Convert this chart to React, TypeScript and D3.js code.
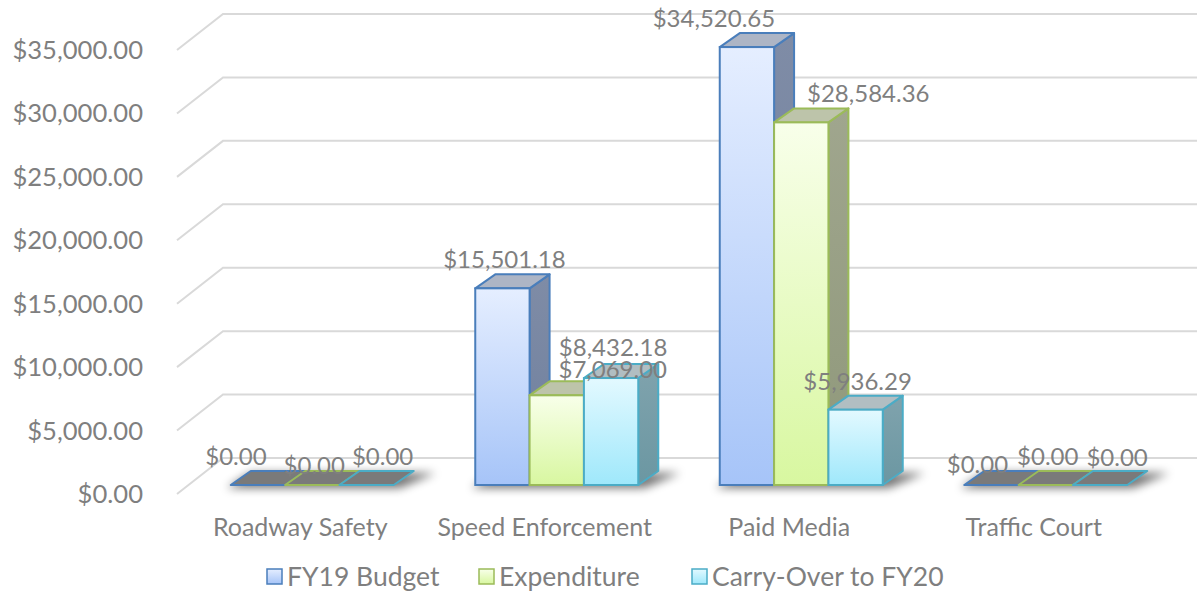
import React from "react";
import * as d3 from "d3";

const categories = ["Roadway Safety", "Speed Enforcement", "Paid Media", "Traffic Court"];
const seriesNames = ["FY19 Budget", "Expenditure", "Carry-Over to FY20"];
const fy19Budget = [0, 15501.18, 34520.65, 0];
const expenditure = [0, 7069.0, 28584.36, 0];
const carryOver = [0, 8432.18, 5936.29, 0];
const yTicks = [0, 5000, 10000, 15000, 20000, 25000, 30000, 35000];

// label nudges (dx, dy) relative to default position above each bar
const labelNudge: [number, number][][] = [
  [[-24, 0], [0, 9], [14, 0]],
  [[0, 0], [54, 3], [0, -2]],
  [[-35, 0], [65, 0], [0, 0]],
  [[-16, 8], [0, 0], [15, 1]],
];

const W = 1197;
const H = 594;
const FONT = "Lato, 'Open Sans', sans-serif";
const TEXT = "#7f7f7f";
const WALL = { dx: 46, dy: -36 };
const OFF = { dx: 13, dy: -9 };
const DEPTH = { dx: 20, dy: -14 };

const styles = [
  { stroke: "#4a7ebb", top0: "#e5eeff", bot0: "#a6c4f8", side: "#7f8ca6", side2: "#6e7f9e", topFace: "#adb5c5" },
  { stroke: "#9bbb59", top0: "#f8ffea", bot0: "#d8f7a0", side: "#a0a68e", side2: "#8f987a", topFace: "#bdc4aa" },
  { stroke: "#4bacc6", top0: "#e3f9ff", bot0: "#9fe8fb", side: "#80a3ad", side2: "#6b97a2", topFace: "#b1bec2" },
];

const legendX = [267, 479, 692];

export default function App() {
  const values = [fy19Budget, expenditure, carryOver];
  const x0 = d3.scaleBand<string>().domain(categories).range([177, 1155]).padding(0);
  const groupW = x0.bandwidth() * (2 / 3);
  const x1 = d3.scaleBand<string>().domain(seriesNames).range([0, groupW]).padding(0);
  const y = d3.scaleLinear().domain([0, 35000]).range([494, 50]);
  const fmt = (v: number) => "$" + d3.format(",.2f")(v);

  const pts = (arr: [number, number][]) => arr.map((p) => p.join(",")).join(" ");

  return (
    <svg width={W} height={H} style={{ display: "block", position: "absolute", left: 0, top: 0, background: "#fff" }}>
      <defs>
        {styles.map((s, i) => (
          <React.Fragment key={i}>
            <linearGradient id={`front${i}`} x1="0" y1="0" x2="0" y2="1">
              <stop offset="0" stopColor={s.top0} />
              <stop offset="1" stopColor={s.bot0} />
            </linearGradient>
            <linearGradient id={`side${i}`} x1="0" y1="0" x2="0" y2="1">
              <stop offset="0" stopColor={s.side} />
              <stop offset="1" stopColor={s.side2} />
            </linearGradient>
          </React.Fragment>
        ))}
        <filter id="shadow" x="-20%" y="-200%" width="140%" height="500%">
          <feGaussianBlur stdDeviation="5" />
        </filter>
      </defs>

      {/* back wall gridlines and left wall diagonals */}
      {yTicks.map((t) => (
        <g key={t}>
          <polyline
            points={pts([
              [177, y(t)],
              [177 + WALL.dx, y(t) + WALL.dy],
              [W, y(t) + WALL.dy],
            ])}
            fill="none"
            stroke="#d9d9d9"
            strokeWidth={2}
          />
          <text
            x={143}
            y={y(t) - 1}
            textAnchor="end"
            dominantBaseline="central"
            fontFamily={FONT}
            fontSize={25.6}
            fill={TEXT}
          >
            {fmt(t)}
          </text>
        </g>
      ))}

      {/* shadows */}
      {categories.map((c) => {
        const left = (x0(c) as number) + (x0.bandwidth() - groupW) / 2 + OFF.dx;
        const right = left + groupW;
        const fy = y(0) + OFF.dy;
        return (
          <polygon
            key={"sh" + c}
            points={pts([
              [left - 4, fy + 3],
              [right + 6, fy + 3],
              [right + DEPTH.dx + 22, fy + DEPTH.dy + 2],
              [left + DEPTH.dx, fy + DEPTH.dy + 2],
            ])}
            fill="#000"
            opacity={0.55}
            filter="url(#shadow)"
          />
        );
      })}

      {/* bars */}
      {categories.map((c, ci) =>
        seriesNames.map((s, si) => {
          const v = values[si][ci];
          const st = styles[si];
          const xl = (x0(c) as number) + (x0.bandwidth() - groupW) / 2 + (x1(s) as number) + OFF.dx;
          const xr = xl + x1.bandwidth();
          const yb = y(0) + OFF.dy;
          const yt = y(v) + OFF.dy;
          const side: [number, number][] = [
            [xr, yt],
            [xr + DEPTH.dx, yt + DEPTH.dy],
            [xr + DEPTH.dx, yb + DEPTH.dy],
            [xr, yb],
          ];
          const top: [number, number][] = [
            [xl, yt],
            [xl + DEPTH.dx, yt + DEPTH.dy],
            [xr + DEPTH.dx, yt + DEPTH.dy],
            [xr, yt],
          ];
          const zero = v === 0;
          return (
            <g key={c + s}>
              {!zero && (
                <polygon points={pts(side)} fill={`url(#side${si})`} stroke={st.stroke} strokeWidth={2} strokeLinejoin="round" />
              )}
              <polygon
                points={pts(top)}
                fill={zero ? "#7a7a7a" : st.topFace}
                stroke={st.stroke}
                strokeWidth={2}
                strokeLinejoin="round"
              />
              {!zero && (
                <rect x={xl} y={yt} width={xr - xl} height={yb - yt} fill={`url(#front${si})`} stroke={st.stroke} strokeWidth={2} />
              )}
            </g>
          );
        })
      )}

      {/* data labels */}
      {categories.map((c, ci) =>
        seriesNames.map((s, si) => {
          const v = values[si][ci];
          const xl = (x0(c) as number) + (x0.bandwidth() - groupW) / 2 + (x1(s) as number) + OFF.dx;
          const cx = xl + x1.bandwidth() / 2 + 2;
          const backTop = y(v) + OFF.dy + DEPTH.dy;
          const [ndx, ndy] = labelNudge[ci][si];
          return (
            <text
              key={"lb" + c + s}
              x={cx + ndx}
              y={backTop - 6 + ndy}
              textAnchor="middle"
              fontFamily={FONT}
              fontSize={24}
              fill={TEXT}
            >
              {fmt(v)}
            </text>
          );
        })
      )}

      {/* category labels */}
      {categories.map((c) => (
        <text
          key={"cat" + c}
          x={(x0(c) as number) + x0.bandwidth() / 2 + 1}
          y={536}
          textAnchor="middle"
          fontFamily={FONT}
          fontSize={25}
          fill={TEXT}
        >
          {c}
        </text>
      ))}

      {/* legend */}
      {seriesNames.map((s, i) => {
        const lx = legendX[i];
        const st = styles[i];
        return (
          <g key={"lg" + s}>
            <rect x={lx} y={569} width={15} height={15} fill={`url(#front${i})`} stroke={st.stroke} strokeWidth={1.5} />
            <text x={lx + 20} y={586} fontFamily={FONT} fontSize={26.5} fill={TEXT}>
              {s}
            </text>
          </g>
        );
      })}
    </svg>
  );
}
